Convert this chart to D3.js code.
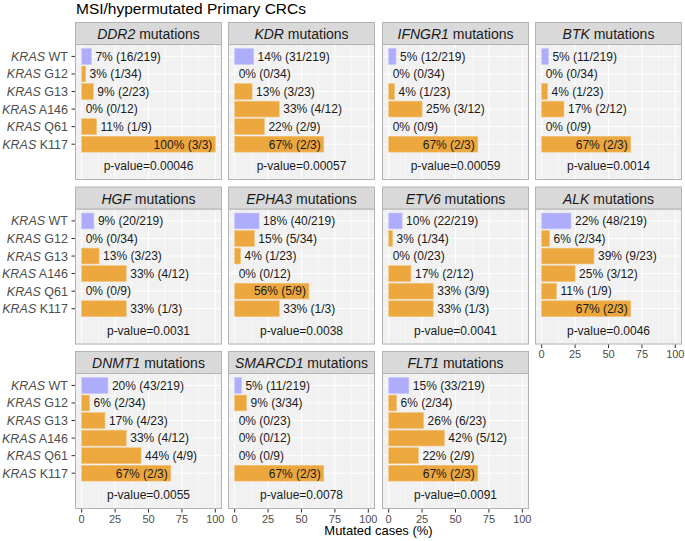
<!DOCTYPE html>
<html>
<head>
<meta charset="utf-8">
<script src="https://cdn.jsdelivr.net/npm/d3@7"></script>
<style>
  html, body { margin: 0; padding: 0; background: #fff; }
  svg { display: block; font-family: "Liberation Sans", Arial, Helvetica, sans-serif; }
</style>
</head>
<body>
<svg id="chart" width="685" height="541"></svg>
<script>
// ---- data ----
const title = "MSI/hypermutated Primary CRCs";
const genes = ["DDR2", "KDR", "IFNGR1", "BTK", "HGF", "EPHA3", "ETV6", "ALK", "DNMT1", "SMARCD1", "FLT1"];
const groups = ["WT", "G12", "G13", "A146", "Q61", "K117"];
const groupTotals = [219, 34, 23, 12, 9, 3];
const mutatedDDR2    = [16, 1, 2, 0, 1, 3];
const mutatedKDR     = [31, 0, 3, 4, 2, 2];
const mutatedIFNGR1  = [12, 0, 1, 3, 0, 2];
const mutatedBTK     = [11, 0, 1, 2, 0, 2];
const mutatedHGF     = [20, 0, 3, 4, 0, 1];
const mutatedEPHA3   = [40, 5, 1, 0, 5, 1];
const mutatedETV6    = [22, 1, 0, 2, 3, 1];
const mutatedALK     = [48, 2, 9, 3, 1, 2];
const mutatedDNMT1   = [43, 2, 4, 4, 4, 2];
const mutatedSMARCD1 = [11, 3, 0, 0, 0, 2];
const mutatedFLT1    = [33, 2, 6, 5, 2, 2];
const pValues = ["0.00046", "0.00057", "0.00059", "0.0014", "0.0031", "0.0038", "0.0041", "0.0046", "0.0055", "0.0078", "0.0091"];
const xTicks = [0, 25, 50, 75, 100];
const xMinor = [12.5, 37.5, 62.5, 87.5];
const xTitle = "Mutated cases (%)";

const mutatedByGene = [mutatedDDR2, mutatedKDR, mutatedIFNGR1, mutatedBTK, mutatedHGF,
  mutatedEPHA3, mutatedETV6, mutatedALK, mutatedDNMT1, mutatedSMARCD1, mutatedFLT1];

// ---- layout ----
const svg = d3.select("#chart");
const colLeft = [75, 228, 382, 535];
const panelW = 147;
const rowTop = [22, 186.5, 351];
const stripH = 22.5;
const bodyH = 135.5;
const nCols = 4;

const colWT = "#adadfc";
const colMut = "#eca83f";
const panelBg = "#f1f1f1";
const borderCol = "#b3b3b3";
const stripBg = "#d9d9d9";

svg.append("text")
  .attr("x", 76).attr("y", 14)
  .attr("font-size", 15.5).attr("fill", "#000")
  .text(title);

const nPanels = genes.length;

genes.forEach((gene, gi) => {
  const col = gi % nCols, row = Math.floor(gi / nCols);
  const left = colLeft[col];
  const top = rowTop[row];
  const bodyTop = top + stripH;
  const bodyBottom = bodyTop + bodyH;

  const x = d3.scaleLinear().domain([-5, 105]).range([left, left + panelW]);
  const y = d3.scaleLinear().domain([-0.68, 7.04]).range([bodyTop, bodyBottom]);
  const step = y(1) - y(0);
  const barH = step * 0.9;

  const g = svg.append("g");

  // panel background
  g.append("rect")
    .attr("x", left).attr("y", bodyTop)
    .attr("width", panelW).attr("height", bodyH)
    .attr("fill", panelBg);

  // minor vertical grid
  g.selectAll(".minor").data(xMinor).join("line")
    .attr("x1", d => x(d)).attr("x2", d => x(d))
    .attr("y1", bodyTop).attr("y2", bodyBottom)
    .attr("stroke", "#fff").attr("stroke-width", 0.5);
  // major vertical grid
  g.selectAll(".major").data(xTicks).join("line")
    .attr("x1", d => x(d)).attr("x2", d => x(d))
    .attr("y1", bodyTop).attr("y2", bodyBottom)
    .attr("stroke", "#fff").attr("stroke-width", 1);
  // horizontal grid at categories
  g.selectAll(".hgrid").data(groups).join("line")
    .attr("x1", left).attr("x2", left + panelW)
    .attr("y1", (d, i) => y(i)).attr("y2", (d, i) => y(i))
    .attr("stroke", "#fff").attr("stroke-width", 1);

  const counts = mutatedByGene[gi];
  const rows = groups.map((grp, i) => {
    const pct = counts[i] / groupTotals[i] * 100;
    return { grp, i, pct, label: Math.round(pct) + "% (" + counts[i] + "/" + groupTotals[i] + ")" };
  });

  // bars
  g.selectAll(".bar").data(rows.filter(r => r.pct > 0)).join("rect")
    .attr("x", x(0))
    .attr("y", r => y(r.i) - barH / 2)
    .attr("width", r => x(r.pct) - x(0))
    .attr("height", barH)
    .attr("fill", r => r.i === 0 ? colWT : colMut)
    .attr("stroke", r => r.i === 0 ? "#c4c4ff" : "#f2c27a")
    .attr("stroke-width", 0.6);

  // value labels
  g.selectAll(".lbl").data(rows).join("text")
    .attr("x", r => r.pct > 50 ? x(r.pct) - 3 : x(r.pct) + 4)
    .attr("y", r => y(r.i))
    .attr("dy", "0.36em")
    .attr("text-anchor", r => r.pct > 50 ? "end" : "start")
    .attr("font-size", 12).attr("fill", "#1a1a1a")
    .text(r => r.label);

  // p-value
  g.append("text")
    .attr("x", left + panelW / 2).attr("y", y(6.25)).attr("dy", "0.36em")
    .attr("text-anchor", "middle")
    .attr("font-size", 12).attr("fill", "#1a1a1a")
    .text("p-value=" + pValues[gi]);

  // panel border
  g.append("rect")
    .attr("x", left + 0.5).attr("y", bodyTop)
    .attr("width", panelW - 1).attr("height", bodyH - 0.5)
    .attr("fill", "none").attr("stroke", borderCol).attr("stroke-width", 1);

  // strip
  g.append("rect")
    .attr("x", left + 0.5).attr("y", top + 0.5)
    .attr("width", panelW - 1).attr("height", stripH - 0.5)
    .attr("fill", stripBg).attr("stroke", borderCol).attr("stroke-width", 1);
  const st = g.append("text")
    .attr("x", left + panelW / 2).attr("y", top + stripH / 2 + 1).attr("dy", "0.36em")
    .attr("text-anchor", "middle").attr("font-size", 14).attr("fill", "#1a1a1a");
  st.append("tspan").attr("font-style", "italic").text(gene);
  st.append("tspan").text(" mutations");

  // y axis on first column
  if (col === 0) {
    g.selectAll(".ytick").data(groups).join("line")
      .attr("x1", left - 3.5).attr("x2", left)
      .attr("y1", (d, i) => y(i)).attr("y2", (d, i) => y(i))
      .attr("stroke", "#333").attr("stroke-width", 1);
    const yl = g.selectAll(".ylab").data(groups).join("text")
      .attr("x", left - 7).attr("y", (d, i) => y(i)).attr("dy", "0.36em")
      .attr("text-anchor", "end").attr("font-size", 12.5).attr("fill", "#4d4d4d");
    yl.append("tspan").attr("font-style", "italic").text("KRAS");
    yl.append("tspan").text(d => " " + d);
  }

  // x axis if no panel below
  if (gi + nCols >= nPanels) {
    g.selectAll(".xtick").data(xTicks).join("line")
      .attr("x1", d => x(d)).attr("x2", d => x(d))
      .attr("y1", bodyBottom).attr("y2", bodyBottom + 3.5)
      .attr("stroke", "#333").attr("stroke-width", 1);
    g.selectAll(".xlab").data(xTicks).join("text")
      .attr("x", d => x(d)).attr("y", bodyBottom + 13.5)
      .attr("text-anchor", "middle").attr("font-size", 11).attr("fill", "#4d4d4d")
      .text(d => d);
  }
});

svg.append("text")
  .attr("x", (colLeft[0] + colLeft[3] + panelW) / 2).attr("y", 535)
  .attr("text-anchor", "middle").attr("font-size", 13).attr("fill", "#000")
  .text(xTitle);
</script>
</body>
</html>
